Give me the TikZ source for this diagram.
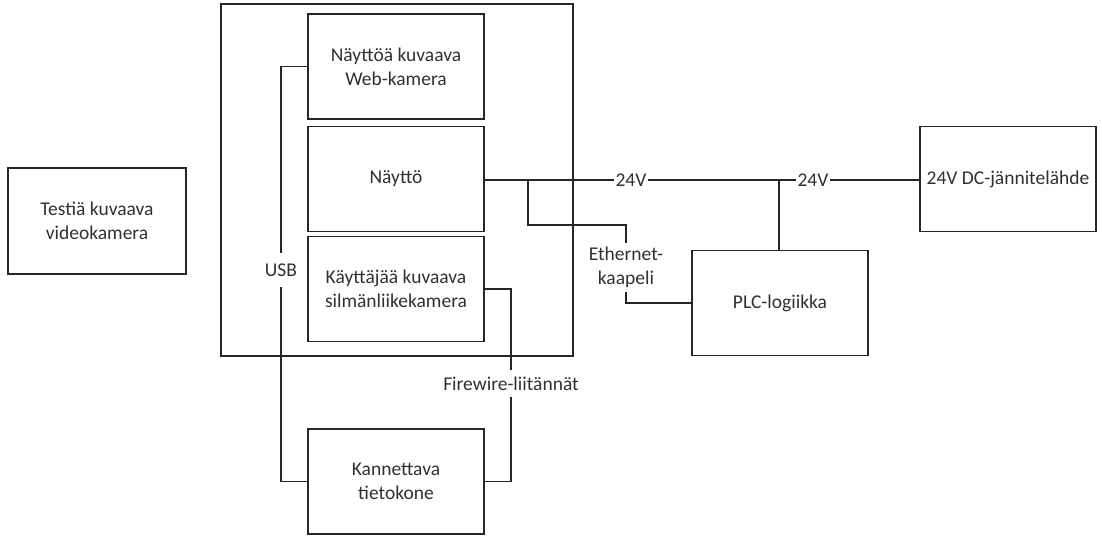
\documentclass[tikz,border=0pt]{standalone}
\usepackage{fontspec}
\setmainfont{Carlito}
\begin{document}
\begin{tikzpicture}[x=1pt,y=-1pt,
  every node/.style={font=\fontsize{19.5}{24}\selectfont, text=txt},
  box/.style={draw=ln, line width=1.3pt, minimum width=176pt, minimum height=105pt, align=center, inner sep=0pt},
  lbl/.style={inner xsep=1pt, inner ysep=0pt, align=center},
  wire/.style={draw=ln, line width=1.3pt}]
\definecolor{ln}{HTML}{262626}
\definecolor{txt}{HTML}{303030}
\useasboundingbox (0,0) rectangle (1102,535);
% outer frame
\node[box, minimum width=352pt, minimum height=352pt] (frame) at (397,180) {};
\node[box, minimum width=178pt, minimum height=106pt] (test) at (97,221) {Testiä kuvaava\\videokamera};
\node[box] (web) at (396,66.5) {Näyttöä kuvaava\\Web-kamera};
\node[box] (nay) at (396,179) {Näyttö};
\node[box] (kay) at (396,289) {Käyttäjää kuvaava\\silmänliikekamera};
\node[box] (kann) at (396,481.5) {Kannettava\\tietokone};
\node[box] (plc) at (780,303) {PLC-logiikka};
\node[box] (src) at (1008,179) {24V DC-jännitelähde};
% labels
\node[lbl, minimum height=34pt] (usb) at (281,270) {USB};
\node[lbl, minimum height=27pt] (fw) at (511,383.5) {Firewire-liitännät};
\node[lbl, minimum height=49pt] (eth) at (626,267.5) {Ethernet-\\kaapeli};
\node[lbl] (v1) at (631,180) {24V};
\node[lbl] (v2) at (813,180) {24V};
\coordinate (j0) at (528,180);
\coordinate (j1) at (779,180);
% connectors
\draw[wire] (web.west) -| (usb.north);
\draw[wire] (usb.south) |- (kann.west);
\draw[wire] (kay.east) -| (fw.north);
\draw[wire] (fw.south) |- (kann.east);
\draw[wire] (nay.east |- j0) -- (v1.west);
\draw[wire] (v1.east) -- (v2.west);
\draw[wire] (v2.east) -- (src.west |- v2.east);
\draw[wire] (j1) -- (j1 |- plc.north);
\draw[wire] (j0) -- ++(0,45) -| (eth.north);
\draw[wire] (eth.south) |- (plc.west);
\end{tikzpicture}
\end{document}
